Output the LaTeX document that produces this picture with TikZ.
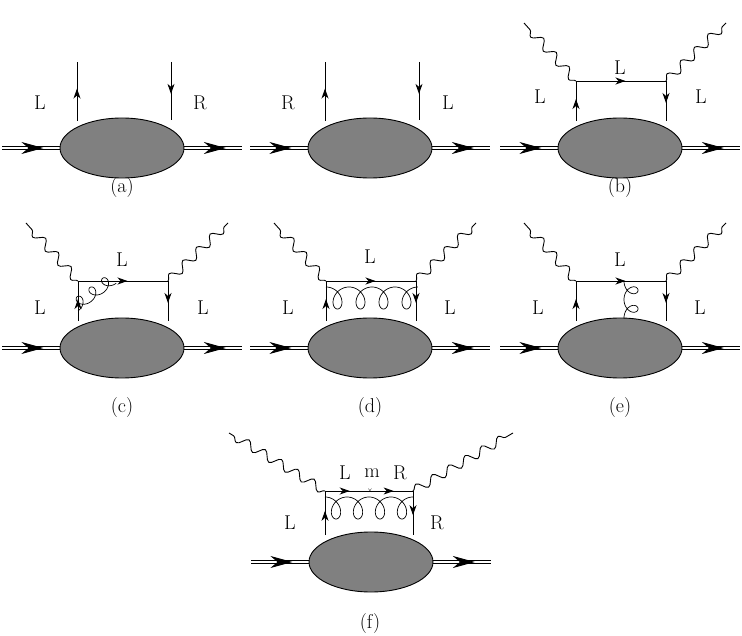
\documentclass[tikz,border=0pt]{standalone}
\usepackage{tikz}
\usetikzlibrary{arrows.meta, shapes.geometric, calc, decorations.pathmorphing, decorations.markings}

\newcommand{\hadron}[3]{%
  \node[blob] (#1) at (#2,#3) {};
  \coordinate (#1in) at (#2-120,#3);
  \coordinate (#1out) at (#2+120,#3);
  \draw[hadronline] ($(#1in)+(0,-1.6)$) -- ($(#1.west)+(0,-1.6)$);
  \draw[hadronline] ($(#1in)+(0,1.6)$) -- ($(#1.west)+(0,1.6)$);
  \draw[hadronline] ($(#1.east)+(0,-1.6)$) -- ($(#1out)+(0,-1.6)$);
  \draw[hadronline] ($(#1.east)+(0,1.6)$) -- ($(#1out)+(0,1.6)$);
  \path[hadronarrow] (#1in) -- (#1.west);
  \path[hadronarrow] (#1.east) -- (#1out);
}
% quark box with two photons on top of a blob
\newcommand{\qbox}[1]{%
  \coordinate (#1tl) at ($(#1.center)+(-44,-67)$);
  \coordinate (#1tr) at ($(#1.center)+(46,-67)$);
  \coordinate (#1gl) at ($(#1.center)+(-96,-125)$);
  \coordinate (#1gr) at ($(#1.center)+(106,-125)$);
  \draw[quark] ($(#1.center)+(-44,-27)$) -- (#1tl);
  \draw[quark] (#1tr) -- ($(#1.center)+(46,-27)$);
  \draw[quark] (#1tl) -- (#1tr);
  \draw[photon] (#1tl) -- (#1gl);
  \draw[photon] (#1tr) -- (#1gr);
}
% gluon: loops, pitch factor, loop reach, loop depth
\newcommand{\gluonloops}[4]{%
  plot[domain=0:#1*2*pi, samples=60*#1, variable=\t, smooth]
    ({#2*\t+#3*sin(\t r)}, {#4*(1-cos(\t r))})}

\begin{document}
\begin{tikzpicture}[x=1pt, y=-1pt, line width=0.9pt, font=\fontsize{20}{24}\selectfont]
  \tikzset{
    blob/.style={ellipse, draw, fill=gray, minimum width=124pt, minimum height=60pt, inner sep=0pt},
    hadronline/.style={line width=1pt},
    hadronarrow/.style={postaction={decorate},
      decoration={markings, mark=at position 0.72 with {\arrow{Stealth[length=22pt, width=12pt, inset=7pt]}}}},
    quark/.style={postaction={decorate},
      decoration={markings, mark=at position 0.55 with {\arrow{Stealth[length=10pt, width=7pt, inset=3pt]}}}},
    photon/.style={decorate, decoration={snake, amplitude=4.5pt, segment length=19pt}},
    gluon/.style={line width=0.7pt},
  }
  \useasboundingbox (0,0) rectangle (742,636);

  % row 1
  \hadron{ha}{122}{148}
  \hadron{hb}{370}{148}
  \hadron{hc}{620}{148}
  \coordinate (a1) at (77,62);
  \coordinate (a2) at (171,62);
  \draw[quark] (77,121) -- (a1);
  \draw[quark] (a2) -- (171,120);
  \node (la) at (40,103) {L};
  \node (ra) at (200,103) {R};
  \coordinate (b1) at (325,62);
  \coordinate (b2) at (419,62);
  \draw[quark] (325,121) -- (b1);
  \draw[quark] (b2) -- (419,120);
  \node (lb) at (288,103) {R};
  \node (rb) at (448,103) {L};
  \qbox{hc}
  \node (tc) at (620,68) {L};
  \node (lc) at (540,97) {L};
  \node (rc) at (701,97) {L};
  \node (capa) at (122,188) {(a)};
  \node (capb) at (620,188) {(b)};

  % row 2
  \hadron{hd}{122}{348}
  \hadron{he}{370}{348}
  \hadron{hf}{620}{348}
  \qbox{hd}
  \qbox{he}
  \qbox{hf}
  \node (td) at (122,260) {L};
  \node (ld) at (40,308) {L};
  \node (rd) at (203,308) {L};
  \node (te) at (370,257) {L};
  \node (le) at (288,308) {L};
  \node (re) at (450,308) {L};
  \node (tf) at (620,260) {L};
  \node (lf) at (538,308) {L};
  \node (rf) at (700,308) {L};
  \draw[gluon, shift={($(hdtl)+(0,30)$)}, rotate=36] \gluonloops{3}{2.5}{6.5}{-6};
  \draw[gluon, shift={($(hetl)+(0,6)$)}] \gluonloops{4}{3.66}{9.5}{11};
  \draw[gluon, shift={($(hftl)+(48,0)$)}, rotate=-90] \gluonloops{2}{2.95}{7.5}{-7};
  \node (capc) at (122,408) {(c)};
  \node (capd) at (370,408) {(d)};
  \node (cape) at (620,408) {(e)};

  % row 3
  \hadron{hg}{371}{562}
  \coordinate (gtl) at (325,491);
  \coordinate (gtr) at (413,491);
  \coordinate (gm) at (370,491);
  \draw[quark] (325,535) -- (gtl);
  \draw[quark] (gtr) -- (413,535);
  \draw[quark] (gtl) -- (gm);
  \draw[quark] (gm) -- (gtr);
  \draw[photon] (gtl) -- ++(-96,-58);
  \draw[photon] (gtr) -- ++(100,-58);
  \node[font=\scriptsize, inner sep=0pt] (mass) at (gm) {$\times$};
  \draw[gluon, shift={($(gtl)+(0,6)$)}] \gluonloops{4}{3.5}{9.5}{11};
  \node (tg1) at (345,473) {L};
  \node (tg2) at (372,473) {m};
  \node (tg3) at (400,473) {R};
  \node (lg) at (290,523) {L};
  \node (rg) at (437,523) {R};
  \node (capf) at (370,624) {(f)};
\end{tikzpicture}
\end{document}
